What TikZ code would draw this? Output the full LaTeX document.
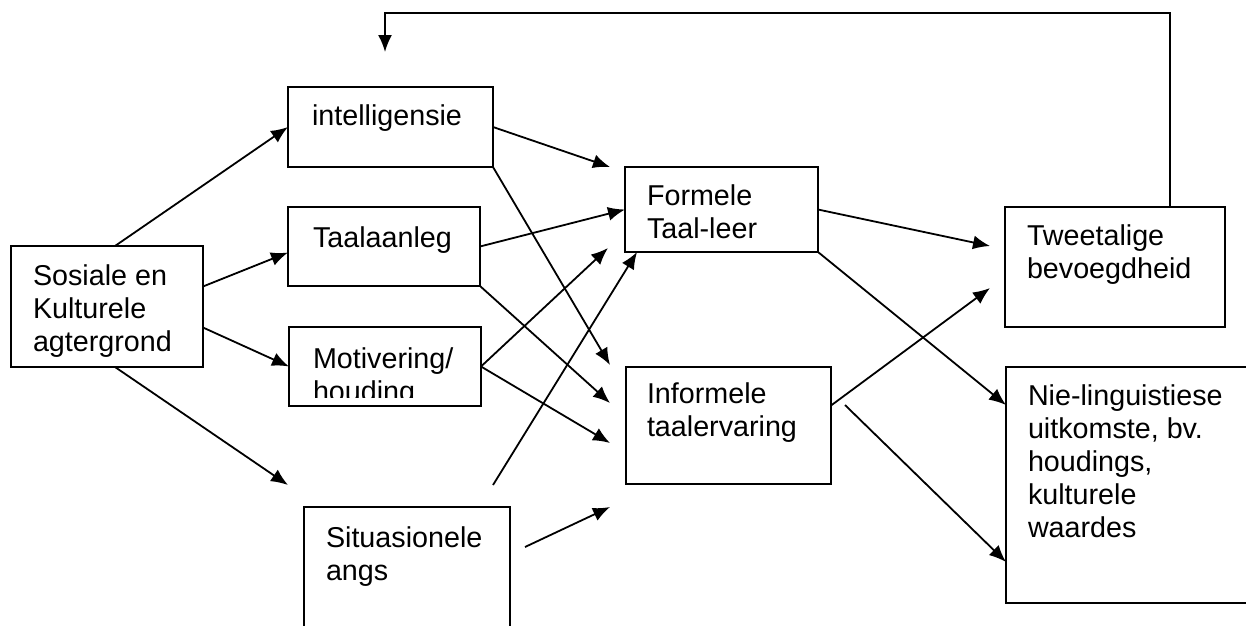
\documentclass[tikz,border=0pt]{standalone}
\usepackage{fontspec}
\setmainfont{Liberation Sans}
\usetikzlibrary{arrows.meta,calc}
\begin{document}
\begin{tikzpicture}[x=1pt,y=-1pt,
  box/.style={draw,line width=1.9pt,rectangle,inner sep=0pt,outer sep=0pt},
  lbl/.style={anchor=base west,inner sep=0pt,outer sep=0pt,align=left,font=\fontsize{28.7}{33}\selectfont},
  conn/.style={line width=1.8pt,-{Latex[length=17pt,width=14pt]}},
]
\useasboundingbox (0,0) rectangle (1246,625);
\clip (0,0) rectangle (1246,625);
% boxes
\node[box,minimum width=192pt,minimum height=121pt] (soc) at (107,306.5) {};
\node[box,minimum width=205pt,minimum height=80pt] (intel) at (390.5,127) {};
\node[box,minimum width=192pt,minimum height=79pt] (taal) at (384,246.5) {};
\node[box,minimum width=192pt,minimum height=79pt] (motiv) at (385,366.5) {};
\node[box,minimum width=206pt,minimum height=130pt] (sit) at (407,572) {};
\node[box,minimum width=193pt,minimum height=85pt] (form) at (721.5,209.5) {};
\node[box,minimum width=205pt,minimum height=117pt] (inf) at (728.5,425.5) {};
\node[box,minimum width=220pt,minimum height=120pt] (twee) at (1115,267) {};
\node[box,minimum width=250pt,minimum height=236pt] (nie) at (1131,485) {};
% texts (anchor = baseline of the last line)
\begin{scope}
\clip (11,246) rectangle (203,357);
\node[lbl] (soct) at (33,351) {Sosiale en\\Kulturele\\agtergrond};
\end{scope}
\node[lbl] (intelt) at (312,125) {intelligensie};
\node[lbl] (taalt) at (313,247) {Taalaanleg};
\begin{scope}
\clip (289,327) rectangle (481,397);
\node[lbl] (motivt) at (313,401) {Motivering/\\houding};
\end{scope}
\node[lbl] (sitt) at (326,580) {Situasionele\\angs};
\node[lbl] (formt) at (647,238) {Formele\\Taal-leer};
\node[lbl] (inft) at (647,436) {Informele\\taalervaring};
\node[lbl] (tweet) at (1027,278) {Tweetalige\\bevoegdheid};
\node[lbl] (niet) at (1028,537) {Nie-linguistiese\\uitkomste, bv.\\houdings,\\kulturele\\waardes};
% free ends
\coordinate (c4) at (288,485);
\coordinate (c5) at (610,167);
\coordinate (c6) at (610,365);
\coordinate (c8) at (610,403);
\coordinate (c9) at (608,248);
\coordinate (c10) at (610,443);
\coordinate (s11) at (493,485);
\coordinate (s12) at (525,547);
\coordinate (e12) at (610,507);
\coordinate (c13) at (990,246);
\coordinate (c15) at (990,288);
\coordinate (s16) at (845,405);
\coordinate (fb) at (385,52);
% connectors
\draw[conn] ($(soc.north)+(8,0)$) -- (intel.west);
\draw[conn] ($(soc.east)+(0,-20)$) -- ($(taal.west)+(0,6)$);
\draw[conn] ($(soc.east)+(0,21)$) -- (motiv.west);
\draw[conn] ($(soc.south)+(8,0)$) -- (c4);
\draw[conn] (intel.east) -- (c5);
\draw[conn] (intel.south east) -- (c6);
\draw[conn] (taal.east) -- (form.west);
\draw[conn] (taal.south east) -- (c8);
\draw[conn] (motiv.east) -- (c9);
\draw[conn] (motiv.east) -- (c10);
\draw[conn] (s11) -- ($(form.south west)+(12,0)$);
\draw[conn] (s12) -- (e12);
\draw[conn] (form.east) -- (c13);
\draw[conn] (form.south east) -- ($(nie.west)+(0,-80)$);
\draw[conn] ($(inf.east)+(0,-20)$) -- (c15);
\draw[conn] (s16) -- ($(nie.west)+(0,77)$);
\draw[conn] ($(twee.north)+(55,0)$) |- ($(fb)+(0,-39)$) -- (fb);
\end{tikzpicture}
\end{document}
